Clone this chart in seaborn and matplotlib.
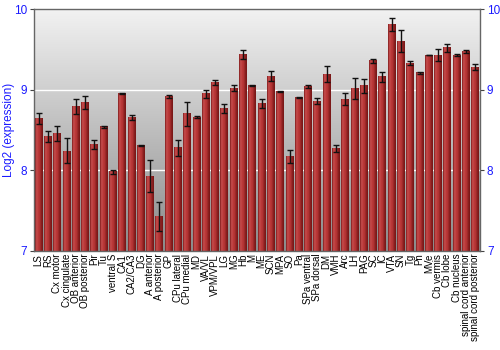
import numpy as np
import pandas as pd
import matplotlib
matplotlib.use("Agg")
import matplotlib.pyplot as plt
import seaborn as sns
from matplotlib.colors import LinearSegmentedColormap

regions = ["LS", "RS", "Cx motor", "Cx cingulate", "OB anterior", "OB posterior", "Pir", "Tu",
           "ventral S", "CA1", "CA2/CA3", "DG", "A anterior", "A posterior", "GP", "CPu lateral",
           "CPu medial", "MD", "VA/VL", "VPM/VPL", "LG", "MG", "Hb", "M", "ME", "SCN", "MPA", "SO",
           "Pa", "SPa ventral", "SPa dorsal", "DM", "VMH", "Arc", "LH", "PAG", "SC", "IC", "VTA",
           "SN", "Tg", "Pn", "MVe", "Cb vermis", "Cb lobe", "Cb nucleus", "spinal cord anterior",
           "spinal cord posterior"]
values = [8.64, 8.42, 8.46, 8.24, 8.79, 8.84, 8.32, 8.54,
          7.98, 8.95, 8.66, 8.31, 7.93, 7.43, 8.92, 8.28,
          8.70, 8.66, 8.95, 9.09, 8.77, 9.02, 9.44, 9.05, 8.83, 9.17, 8.98, 8.17,
          8.90, 9.04, 8.86, 9.19, 8.27, 8.88, 9.01, 9.05, 9.36, 9.16, 9.81,
          9.60, 9.33, 9.21, 9.43, 9.43, 9.52, 9.43, 9.47, 9.28]
errors = [0.07, 0.066, 0.09, 0.155, 0.09, 0.08, 0.06, 0.01,
          0.02, 0.005, 0.03, 0.005, 0.2, 0.18, 0.02, 0.1,
          0.15, 0.016, 0.05, 0.027, 0.055, 0.037, 0.055, 0.005, 0.058, 0.064, 0.008, 0.077,
          0.005, 0.017, 0.033, 0.1, 0.04, 0.074, 0.13, 0.087, 0.025, 0.06, 0.083,
          0.136, 0.025, 0.014, 0.004, 0.074, 0.048, 0.017, 0.017, 0.033]
y_ticks = [7, 8, 9, 10]
y_label = "Log2 (expression)"

df = pd.DataFrame({"region": regions, "value": values, "err": errors})

plt.rcParams['font.family'] = ['Liberation Sans', 'DejaVu Sans']
fig = plt.figure(figsize=(5, 3.5), dpi=100)
ax = fig.add_axes([0.068, 0.283, 0.892, 0.691])

sns.barplot(data=df, x="region", y="value", ax=ax, color="#b03030",
            errorbar=None, width=0.86, linewidth=0, zorder=2)

ymin, ymax = 7, 10

# background gradient
bg = LinearSegmentedColormap.from_list("bg", ["#8a8a8a", "#f2f2f2"])
grad = np.linspace(0, 1, 256).reshape(-1, 1)
ax.imshow(grad, cmap=bg, aspect="auto", extent=[0, 1, 0, 1], origin="lower",
          transform=ax.transAxes, zorder=0)

# bar shading (drawn over each seaborn bar, within the visible y range)
barcmap = LinearSegmentedColormap.from_list(
    "bar", ["#7e1a1a", "#c85050", "#bb3a3a", "#b03232", "#8a2020", "#761616"])
hgrad = np.linspace(0, 1, 64).reshape(1, -1)
for p in list(ax.patches):
    x0 = p.get_x()
    w, h = p.get_width(), p.get_y() + p.get_height()
    ax.imshow(hgrad, cmap=barcmap, aspect="auto",
              extent=[x0, x0 + w, ymin, h], zorder=2.5)

ax.errorbar(np.arange(len(values)), values, yerr=errors, fmt="none",
            ecolor="#111111", elinewidth=1.0, capsize=2, capthick=1, zorder=4)

for yv in [8, 9]:
    ax.axhline(yv, color="white", lw=1.0, zorder=1)

ax.set_xlim(-0.5, len(values) - 0.5)
ax.set_ylim(ymin, ymax)
ax.set_yticks(y_ticks)
ax.set_yticklabels([str(t) for t in y_ticks])
ax.tick_params(axis="y", which="both", left=True, right=True, labelleft=True, labelright=True,
               labelcolor="#1a1aff", labelsize=8.5, length=3, color="#444444", direction="out", pad=2)
ax.tick_params(axis="x", length=0, labelsize=7, pad=2, rotation=90)
ax.set_xlabel("")
ax.set_ylabel(y_label, color="#1a1aff", fontsize=8.5)
ax.yaxis.set_label_coords(-0.043, 0.5)
ax.grid(False)
for s in ax.spines.values():
    s.set_color("#666666")
    s.set_linewidth(1.0)

fig.savefig("out.png", dpi=100)
